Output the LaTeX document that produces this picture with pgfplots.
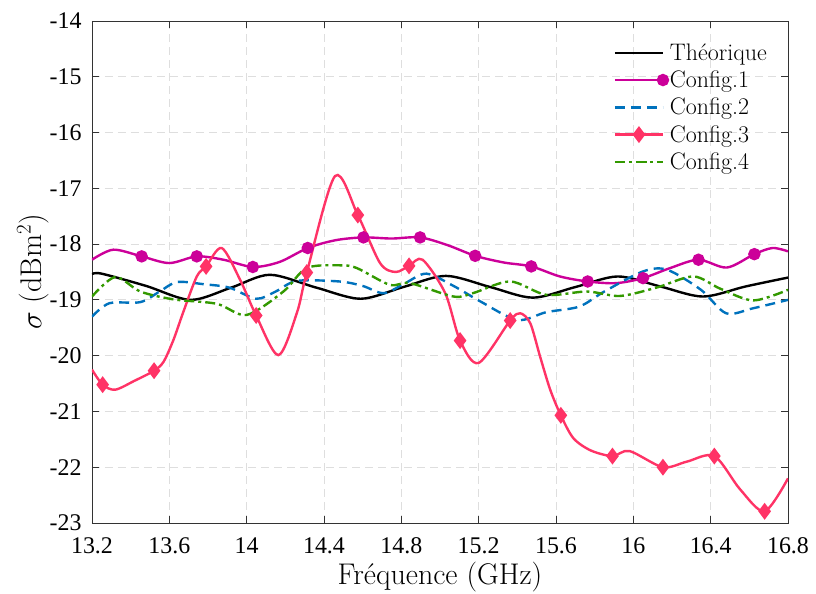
\RequirePackage{fix-cm}
\documentclass[border=0pt]{standalone}
\usepackage{fontspec}
\newfontfamily\tickfont{Liberation Serif}
\usepackage{pgfplots}
\pgfplotsset{compat=1.18}
\definecolor{cA}{rgb}{0.8,0,0.6}
\definecolor{cB}{rgb}{0,0.447,0.741}
\definecolor{cC}{rgb}{1,0.2,0.4}
\definecolor{cD}{rgb}{0.2,0.6,0}
\begin{document}
\begin{tikzpicture}
\begin{axis}[
  scale only axis, width=696bp, height=502bp,
  xmin=13.2, xmax=16.8, ymin=-23, ymax=-14,
  xtick={13.2,13.6,14,14.4,14.8,15.2,15.6,16,16.4,16.8},
  xticklabels={13.2,13.6,14,14.4,14.8,15.2,15.6,16,16.4,16.8},
  ytick={-23,-22,-21,-20,-19,-18,-17,-16,-15,-14},
  yticklabels={-23,-22,-21,-20,-19,-18,-17,-16,-15,-14},
  ticklabel style={font=\tickfont\fontsize{24}{28}\selectfont, text=black},
  xticklabel style={yshift=-11bp},
  yticklabel style={xshift=-7bp},
  tick align=inside, major tick length=7bp,
  tick style={color=black!80, line width=0.8bp},
  axis line style={color=black!80, line width=0.8bp},
  grid=major,
  grid style={dash pattern=on 8bp off 5bp, color=black!13, line width=0.8bp},
  xlabel={Fréquence (GHz)},
  ylabel={$\sigma$ (dBm$^2$)},
  label style={font=\fontsize{30}{34}\selectfont},
  xlabel style={at={(axis description cs:0.5,-0.1235)}, anchor=base},
  ylabel style={at={(axis description cs:-0.0848,0.5)}, anchor=center},
  legend style={at={(axis description cs:0.977,0.963)}, anchor=north east,
    draw=none, fill=none, font=\fontsize{24}{28}\selectfont,
    row sep=5bp, nodes={inner sep=2bp}},
  legend cell align=left,
  legend image code/.code={\draw[mark repeat=2,mark phase=2,#1]
     plot coordinates {(0bp,0bp) (24bp,0bp) (48bp,0bp)};},
  legend image post style={line width=2.4bp},
]
\coordinate (ll) at (rel axis cs:0,0);
\coordinate (ur) at (rel axis cs:1,1);
% Theorique
\addplot[black, line width=2.4bp, smooth] coordinates {
(13.2,-18.54) (13.25,-18.53) (13.48,-18.75) (13.71,-19.00) (13.92,-18.78)
(14.12,-18.55) (14.36,-18.78) (14.59,-18.98) (14.81,-18.77) (15.03,-18.57)
(15.26,-18.77) (15.48,-18.96) (15.70,-18.77) (15.92,-18.58) (16.14,-18.76)
(16.36,-18.94) (16.58,-18.76) (16.8,-18.60)};
\addlegendentry{Théorique}
% Config.1
\addplot[cA, line width=2.4bp, smooth, mark=*, mark size=5bp, mark options={solid},
  mark indices={3,5,7,9,11,13,15,17,19,21,23,25}] coordinates {
(13.2,-18.28) (13.31,-18.10) (13.457,-18.22) (13.60,-18.34) (13.742,-18.22)
(13.88,-18.28) (14.032,-18.41) (14.17,-18.32) (14.316,-18.07) (14.46,-17.93)
(14.604,-17.88) (14.75,-17.90) (14.897,-17.88) (15.04,-18.02) (15.182,-18.21)
(15.33,-18.33) (15.472,-18.40) (15.62,-18.58) (15.764,-18.67) (15.91,-18.70)
(16.05,-18.61) (16.19,-18.43) (16.337,-18.28) (16.484,-18.42) (16.626,-18.18)
(16.72,-18.07) (16.8,-18.13)};
\addlegendentry{Config.1}
% Config.2
\addplot[cB, line width=2.4bp, smooth, dash pattern=on 10bp off 6bp] coordinates {
(13.2,-19.30) (13.29,-19.06) (13.45,-19.04) (13.55,-18.85) (13.64,-18.68)
(13.78,-18.72) (13.91,-18.78) (14.05,-18.98) (14.15,-18.85) (14.26,-18.66)
(14.48,-18.67) (14.60,-18.75) (14.71,-18.88) (14.82,-18.70) (14.93,-18.53)
(15.07,-18.75) (15.21,-19.03) (15.40,-19.36) (15.55,-19.22) (15.72,-19.12)
(15.85,-18.85) (16.05,-18.49) (16.175,-18.46) (16.35,-18.82) (16.48,-19.24)
(16.62,-19.15) (16.8,-19.00)};
\addlegendentry{Config.2}
% Config.3
\addplot[cC, line width=2.4bp, smooth, mark=diamond*, mark size=6.5bp, mark options={solid},
  mark indices={2,5,10,13,16,18,21,24,26,31,34,36,38,40}] coordinates {
(13.2,-20.25) (13.255,-20.52) (13.32,-20.61) (13.42,-20.45) (13.521,-20.27)
(13.57,-20.11) (13.621,-19.72) (13.672,-19.22) (13.742,-18.58) (13.79,-18.40)
(13.871,-18.07) (13.966,-18.64) (14.049,-19.28) (14.164,-19.99) (14.26,-19.23)
(14.311,-18.51) (14.457,-16.78) (14.575,-17.48) (14.69,-18.34) (14.77,-18.50)
(14.84,-18.39) (14.91,-18.28) (15.027,-18.88) (15.104,-19.73) (15.20,-20.13)
(15.363,-19.37) (15.415,-19.24) (15.467,-19.42) (15.518,-20.02) (15.57,-20.61)
(15.625,-21.07) (15.69,-21.48) (15.78,-21.70) (15.892,-21.80) (15.98,-21.71)
(16.153,-22.00) (16.277,-21.90) (16.419,-21.80) (16.553,-22.40) (16.679,-22.79)
(16.8,-22.20)};
\addlegendentry{Config.3}
% Config.4
\addplot[cD, line width=2.4bp, smooth, dash pattern=on 10bp off 4bp on 3bp off 4bp] coordinates {
(13.2,-18.94) (13.32,-18.59) (13.45,-18.85) (13.62,-18.99) (13.845,-19.07)
(14.0,-19.27) (14.19,-18.85) (14.31,-18.43) (14.48,-18.38) (14.57,-18.43)
(14.74,-18.73) (14.845,-18.70) (15.07,-18.94) (15.17,-18.88) (15.363,-18.67)
(15.55,-18.91) (15.76,-18.85) (15.93,-18.93) (16.12,-18.78) (16.31,-18.58)
(16.45,-18.80) (16.62,-19.01) (16.8,-18.82)};
\addlegendentry{Config.4}
\end{axis}
\pgfresetboundingbox
\path ([shift={(-92bp,-71bp)}]ll) rectangle ([shift={(28bp,21bp)}]ur);
\end{tikzpicture}
\end{document}
